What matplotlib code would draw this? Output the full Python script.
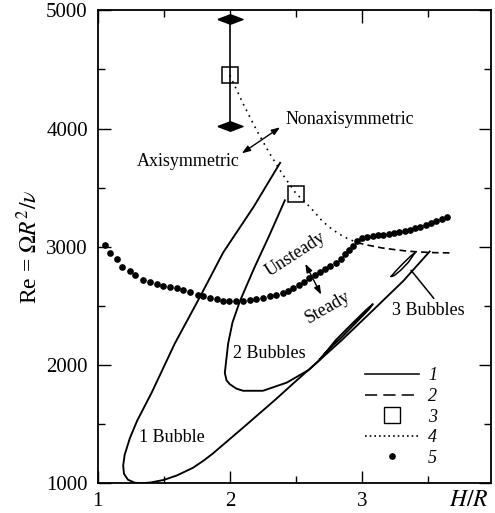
import matplotlib
matplotlib.use("Agg")
import matplotlib.pyplot as plt
from matplotlib.lines import Line2D

plt.rcParams['font.family'] = ['Liberation Serif', 'DejaVu Serif']
plt.rcParams['mathtext.fontset'] = 'stix'

# --- data ---

# curve 1 (solid): one-bubble boundary, from its upper end round the tip and up the lower branch
bub1_x = [2.38, 2.18, 1.95, 1.77, 1.584, 1.41, 1.30, 1.245, 1.205, 1.194, 1.20, 1.23, 1.28,
          1.33, 1.40, 1.50, 1.60, 1.72, 1.80, 1.87, 2.10, 2.35, 2.50, 2.68, 2.85, 3.06,
          3.31, 3.51]
bub1_y = [3710, 3338, 2952, 2567, 2182, 1768, 1530, 1383, 1240, 1150, 1080, 1030, 1005,
          1000, 1006, 1028, 1066, 1130, 1190, 1250, 1470, 1713, 1865, 2043, 2215, 2440,
          2710, 2960]

# curve 1 (solid): two-bubble boundary, ending in a thin loop along the lower branch
bub2_x = [2.416, 2.30, 2.18, 2.076, 2.02, 1.987, 1.962, 1.975, 2.00, 2.05, 2.10, 2.25, 2.43,
          2.60, 2.68, 2.80, 2.92, 3.02, 3.08, 3.05, 2.95, 2.85, 2.75, 2.68]
bub2_y = [3393, 3100, 2810, 2540, 2360, 2181, 1933, 1870, 1837, 1800, 1782, 1782, 1851,
          1961, 2045, 2210, 2345, 2455, 2515, 2470, 2355, 2240, 2135, 2050]

# curve 1 (solid): small three-bubble loop
bub3_x = [3.22, 3.25, 3.31, 3.37, 3.40, 3.39, 3.35, 3.29, 3.24, 3.22]
bub3_y = [2750, 2790, 2860, 2925, 2950, 2935, 2870, 2800, 2755, 2750]

# curve 2 (dashed)
dash_x = [2.96, 3.05, 3.15, 3.25, 3.35, 3.45, 3.55, 3.66]
dash_y = [3035, 3012, 2990, 2975, 2962, 2955, 2950, 2948]

# curve 4 (dotted)
dot_x = [2.00, 2.05, 2.10, 2.15, 2.20, 2.25, 2.30, 2.35, 2.40, 2.45, 2.50,
         2.58, 2.65, 2.70, 2.77, 2.83, 2.88, 2.96]
dot_y = [4450, 4330, 4210, 4100, 3990, 3890, 3790, 3700, 3610, 3530, 3450,
         3366, 3280, 3215, 3150, 3105, 3075, 3035]

# points 3 (squares)
sq_x = [2.0, 2.5]
sq_y = [4450, 3450]

# diamonds with the bar between them
dia_x = [2.0, 2.0]
dia_y = [4930, 4020]

# points 5 (filled dots)
pts_x = [1.056, 1.098, 1.148, 1.186, 1.244, 1.287, 1.345, 1.395, 1.446, 1.496, 1.546, 1.597,
         1.647, 1.698, 1.76, 1.80, 1.85, 1.90, 1.95, 1.99, 2.05, 2.10, 2.15, 2.20, 2.25,
         2.30, 2.35, 2.40, 2.44, 2.48, 2.52, 2.56, 2.60, 2.64, 2.68, 2.72, 2.76, 2.80,
         2.84, 2.87, 2.90, 2.93, 2.96, 3.00, 3.04, 3.08, 3.12, 3.16, 3.20, 3.24, 3.28,
         3.32, 3.36, 3.40, 3.44, 3.48, 3.52, 3.56, 3.60, 3.64]
pts_y = [3017, 2948, 2893, 2826, 2793, 2760, 2721, 2702, 2686, 2672, 2661, 2650,
         2631, 2620, 2595, 2584, 2570, 2554, 2545, 2540, 2543, 2545, 2548, 2556, 2568,
         2581, 2595, 2609, 2628, 2650, 2675, 2703, 2733, 2760, 2788, 2812, 2835, 2862,
         2900, 2940, 2975, 3010, 3045, 3070, 3082, 3091, 3097, 3102, 3108, 3115, 3124,
         3133, 3143, 3155, 3168, 3184, 3200, 3216, 3232, 3248]

legend_labels = ['1', '2', '3', '4', '5']

# --- figure ---
fig = plt.figure(figsize=(4.95, 5.13), dpi=100)
ax = fig.add_axes([0.197, 0.058, 0.794, 0.922])

lw = 1.35
ax.plot(bub1_x, bub1_y, color='black', lw=lw)
ax.plot(bub2_x, bub2_y, color='black', lw=lw)
ax.plot(bub3_x, bub3_y, color='black', lw=1.1)
ax.plot(dash_x, dash_y, color='black', lw=1.2, linestyle=(0, (4, 2.5)))
ax.plot(dot_x, dot_y, color='black', lw=1.2, linestyle=(0, (1, 2.8)))
ax.plot(pts_x, pts_y, 'o', color='black', markersize=3.8, linestyle='none')

# bar with diamonds
diamond = [(-1, 0), (0, 0.38), (1, 0), (0, -0.38), (-1, 0)]
ax.plot(dia_x, dia_y, color='black', lw=1.2)
ax.plot(dia_x, dia_y, linestyle='none', marker=diamond, markersize=18, color='black',
        clip_on=False)
ax.plot(sq_x, sq_y, 's', markersize=11, markerfacecolor='none', markeredgecolor='black',
        markeredgewidth=1.1, linestyle='none')

# leader to the three-bubble loop
ax.plot([3.37, 3.54], [2800, 2565], color='black', lw=1.1)

tfs = 13
ax.text(1.685, 3720, 'Axisymmetric', fontsize=tfs, ha='center', va='center')
ax.text(2.42, 4075, 'Nonaxisymmetric', fontsize=tfs, ha='left', va='center')
ax.text(2.50, 2934, 'Unsteady', fontsize=tfs, ha='center', va='center', rotation=33)
ax.text(2.74, 2491, 'Steady', fontsize=tfs, ha='center', va='center', rotation=30)
ax.text(2.30, 2099, '2 Bubbles', fontsize=tfs, ha='center', va='center')
ax.text(1.565, 1383, '1 Bubble', fontsize=tfs, ha='center', va='center')
ax.text(3.50, 2457, '3 Bubbles', fontsize=tfs, ha='center', va='center')

arrow = dict(arrowstyle='<|-|>,head_length=0.5,head_width=0.18', color='black', lw=1.0,
             shrinkA=0, shrinkB=0)
ax.annotate('', xy=(2.09, 3790), xytext=(2.38, 4010), arrowprops=arrow)
ax.annotate('', xy=(2.57, 2856), xytext=(2.69, 2595), arrowprops=arrow)

# axes
ax.set_xlim(1, 3.97)
ax.set_ylim(1000, 5000)
ax.set_xticks([1, 2, 3])
ax.set_xticks([1.5, 2.5, 3.5], minor=True)
ax.set_yticks([1000, 2000, 3000, 4000, 5000])
ax.set_yticks([1500, 2500, 3500, 4500], minor=True)
ax.tick_params(which='both', direction='in', top=True, right=True, labelsize=15, width=1.0)
ax.tick_params(which='major', length=9)
ax.tick_params(which='minor', length=5)
ax.tick_params(axis='x', pad=6)
ax.tick_params(axis='y', pad=7)
for sp in ax.spines.values():
    sp.set_linewidth(1.3)

ax.set_ylabel(r'Re = $\Omega R^2/\nu$', fontsize=17, labelpad=3)
ax.text(0.946, -0.036, r'$H/R$', fontsize=17, transform=ax.transAxes, ha='center', va='center')

handles = [
    Line2D([], [], color='black', lw=1.1),
    Line2D([], [], color='black', lw=1.1, linestyle=(0, (8, 4))),
    Line2D([], [], linestyle='none', marker='s', markersize=11, markerfacecolor='none',
           markeredgecolor='black', markeredgewidth=1.0),
    Line2D([], [], color='black', lw=1.2, linestyle=(0, (1, 1.8))),
    Line2D([], [], linestyle='none', marker='o', markersize=3.8, color='black'),
]
ax.legend(handles, legend_labels, loc='upper left', bbox_to_anchor=(0.68, 0.245),
          frameon=False, borderpad=0, borderaxespad=0, handlelength=3.0, handletextpad=0.5,
          labelspacing=0.2, prop={'family': 'Liberation Serif', 'style': 'italic', 'size': 13})

fig.savefig('out.png', dpi=100)
